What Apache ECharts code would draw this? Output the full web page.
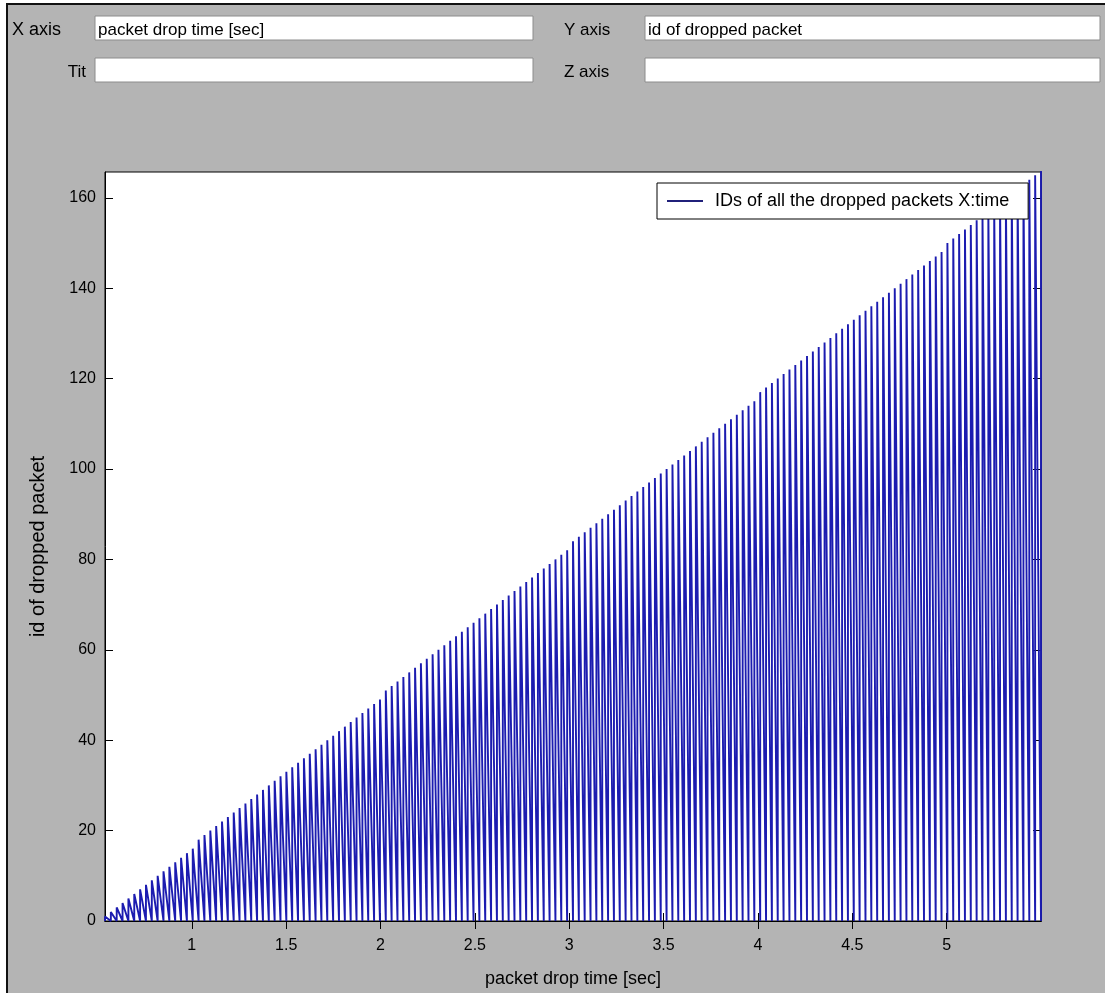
<!DOCTYPE html>
<html><head><meta charset="utf-8">
<script src="https://cdn.jsdelivr.net/npm/echarts@6/dist/echarts.min.js"></script>
<style>html,body{margin:0;padding:0;background:#fff}#c{width:1105px;height:993px}</style>
</head><body><div id="c"></div>
<script>
// drop instants (s), read from the evenly spaced vertical strokes (~5.9 px apart)
const dropTimes = [
0.540,0.571,0.602,0.633,0.664,0.695,0.726,0.757,0.788,0.819,
0.850,0.881,0.912,0.943,0.974,1.005,1.036,1.067,1.098,1.129,
1.160,1.191,1.222,1.253,1.284,1.315,1.346,1.377,1.408,1.439,
1.470,1.501,1.532,1.563,1.594,1.625,1.656,1.687,1.718,1.749,
1.780,1.811,1.842,1.873,1.904,1.935,1.966,1.997,2.028,2.059,
2.090,2.121,2.152,2.183,2.214,2.245,2.276,2.307,2.338,2.369,
2.400,2.431,2.462,2.493,2.524,2.555,2.586,2.617,2.648,2.679,
2.710,2.741,2.772,2.803,2.834,2.865,2.896,2.927,2.958,2.989,
3.020,3.051,3.082,3.113,3.144,3.175,3.206,3.237,3.268,3.299,
3.330,3.361,3.392,3.423,3.454,3.485,3.516,3.547,3.578,3.609,
3.640,3.671,3.702,3.733,3.764,3.795,3.826,3.857,3.888,3.919,
3.950,3.981,4.012,4.043,4.074,4.105,4.136,4.167,4.198,4.229,
4.260,4.291,4.322,4.353,4.384,4.415,4.446,4.477,4.508,4.539,
4.570,4.601,4.632,4.663,4.694,4.725,4.756,4.787,4.818,4.849,
4.880,4.911,4.942,4.973,5.004,5.035,5.066,5.097,5.128,5.159,
5.190,5.221,5.252,5.283,5.314,5.345,5.376,5.407,5.438,5.469,
5.500];
// lowest id dropped at each instant (strokes reach the x axis)
const lowIds = [
0,0,0,0,0,0,0,0,0,0, 0,0,0,0,0,0,0,0,0,0, 0,0,0,0,0,0,0,0,0,0,
0,0,0,0,0,0,0,0,0,0, 0,0,0,0,0,0,0,0,0,0, 0,0,0,0,0,0,0,0,0,0,
0,0,0,0,0,0,0,0,0,0, 0,0,0,0,0,0,0,0,0,0, 0,0,0,0,0,0,0,0,0,0,
0,0,0,0,0,0,0,0,0,0, 0,0,0,0,0,0,0,0,0,0, 0,0,0,0,0,0,0,0,0,0,
0,0,0,0,0,0,0,0,0,0, 0,0,0,0,0,0,0,0,0,0, 0,0,0,0,0,0,0,0,0,0,
0,0,0,0,0,0,0,0,0,0, 0];
// highest id dropped at each instant (upper envelope)
const highIds = [
1,2,3,4,5,6,7,8,9,10,
11,12,13,14,15,16,18,19,20,21,
22,23,24,25,26,27,28,29,30,31,
32,33,34,35,36,37,38,39,40,41,
42,43,44,45,46,47,48,49,51,52,
53,54,55,56,57,58,59,60,61,62,
63,64,65,66,67,68,69,70,71,72,
73,74,75,76,77,78,79,80,81,82,
84,85,86,87,88,89,90,91,92,93,
94,95,96,97,98,99,100,101,102,103,
104,105,106,107,108,109,110,111,112,113,
114,115,117,118,119,120,121,122,123,124,
125,126,127,128,129,130,131,132,133,134,
135,136,137,138,139,140,141,142,143,144,
145,146,147,148,150,151,152,153,154,155,
156,157,158,159,160,161,162,163,164,165,
166];
const xTickValues = [1,1.5,2,2.5,3,3.5,4,4.5,5];
const yTickValues = [0,20,40,60,80,100,120,140,160];
const seriesName = 'IDs of all the dropped packets X:time';

const path = [];
for (let i = 0; i < dropTimes.length; i++) {
  path.push([dropTimes[i], lowIds[i]]);
  path.push([dropTimes[i], highIds[i]]);
}

const FONT = '"Liberation Sans", Arial, sans-serif';
const gray = '#b4b4b4';
const lineColor = '#1c1cb0';
const chart = echarts.init(document.getElementById('c'), null, {renderer: 'canvas'});

function field(x, y, w, h) {
  return {type: 'rect', shape: {x: x, y: y, width: w, height: h},
    style: {fill: '#fff', stroke: '#8c8c8c', lineWidth: 1}, silent: true};
}
function label(x, y, t, align, size) {
  return {type: 'text', x: x, y: y, style: {text: t, font: (size || 17) + 'px ' + FONT, fill: '#000',
    align: align || 'left', verticalAlign: 'middle'}, silent: true};
}

const axCommon = {
  axisLine: {show: true, lineStyle: {color: '#000', width: 1}},
  splitLine: {show: false}
};

chart.setOption({
  animation: false,
  backgroundColor: '#fff',
  graphic: [
    {type: 'rect', shape: {x: 6, y: 3, width: 1105, height: 993}, style: {fill: gray}, silent: true, z: -10},
    {type: 'line', shape: {x1: 7, y1: 3, x2: 7, y2: 993}, style: {stroke: '#111', lineWidth: 2}, silent: true},
    {type: 'line', shape: {x1: 6, y1: 4, x2: 1105, y2: 4}, style: {stroke: '#111', lineWidth: 2}, silent: true},
    field(95, 16, 438, 24), field(645, 16, 455, 24),
    field(95, 58, 438, 24), field(645, 58, 455, 24),
    label(12, 30, 'X axis', 'left', 18), label(564, 30, 'Y axis'),
    label(86, 72, 'Tit', 'right'), label(564, 72, 'Z axis'),
    label(98, 30, 'packet drop time [sec]', 'left', 17),
    label(648, 30, 'id of dropped packet', 'left', 17)
  ],
  grid: {left: 105, right: 64, top: 172, bottom: 71, show: true, backgroundColor: '#fff', borderColor: '#000', borderWidth: 1},
  legend: {
    show: true, left: 657, top: 183, orient: 'horizontal',
    backgroundColor: '#fff', borderColor: '#000', borderWidth: 1,
    padding: [9, 19, 9, 10], itemWidth: 36, itemHeight: 2, icon: 'rect',
    textStyle: {fontFamily: FONT, fontSize: 18, color: '#000', padding: [0, 0, 0, 7]},
    data: [{name: seriesName, itemStyle: {color: '#20207a'}}]
  },
  xAxis: [
    Object.assign({type: 'value', min: 0.54, max: 5.5, position: 'bottom',
      name: 'packet drop time [sec]', nameLocation: 'middle', nameGap: 49,
      nameTextStyle: {fontFamily: FONT, fontSize: 18, color: '#000'},
      axisTick: {show: true, inside: true, length: 8, customValues: xTickValues, lineStyle: {color: '#000'}},
      axisLabel: {customValues: xTickValues, fontFamily: FONT, fontSize: 16, color: '#000', margin: 17}
    }, axCommon),
    Object.assign({type: 'value', min: 0.54, max: 5.5, position: 'top',
      axisTick: {show: true, inside: true, length: 8, customValues: xTickValues, lineStyle: {color: '#000'}},
      axisLabel: {show: false}
    }, axCommon)
  ],
  yAxis: [
    Object.assign({type: 'value', min: 0, max: 165.7, position: 'left',
      name: 'id of dropped packet', nameLocation: 'middle', nameGap: 57, nameRotate: 90,
      nameTextStyle: {fontFamily: FONT, fontSize: 20, color: '#000'},
      axisTick: {show: true, inside: true, length: 8, customValues: yTickValues, lineStyle: {color: '#000'}},
      axisLabel: {customValues: yTickValues, fontFamily: FONT, fontSize: 16, color: '#000', margin: 9}
    }, axCommon),
    Object.assign({type: 'value', min: 0, max: 165.7, position: 'right',
      axisTick: {show: true, inside: true, length: 8, customValues: yTickValues, lineStyle: {color: '#000'}},
      axisLabel: {show: false}
    }, axCommon)
  ],
  series: [{
    name: seriesName, type: 'line', xAxisIndex: 0, yAxisIndex: 0,
    data: path, showSymbol: false, symbol: 'none', silent: true,
    lineStyle: {color: lineColor, width: 1.9}, itemStyle: {color: lineColor},
    clip: true, z: 1
  }]
});
</script></body></html>
